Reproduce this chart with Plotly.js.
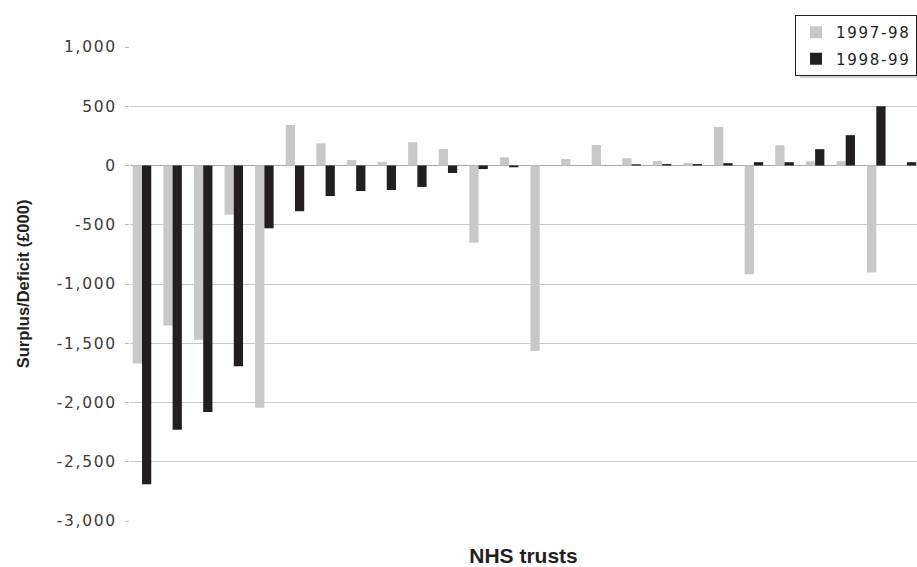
<!DOCTYPE html>
<html>
<head>
<meta charset="utf-8">
<script src="https://cdn.plot.ly/plotly-3.0.1.min.js"></script>
<style>
  html, body { margin: 0; padding: 0; background: #fff; }
  #chart { width: 917px; height: 567px; }
  /* wide, airy numerals for tick labels and legend entries */
  .ytick text, text.ytick, .yaxislayer-above text, .legendtext { letter-spacing: 1.7px !important; }
</style>
</head>
<body>
<div id="chart"></div>
<script>
// NHS trusts, surplus / deficit in £000
const trusts = ['T1','T2','T3','T4','T5','T6','T7','T8','T9','T10','T11','T12','T13',
                'T14','T15','T16','T17','T18','T19','T20','T21','T22','T23','T24','T25','T26'];

const fy1997 = [-1670, -1350, -1470, -415, -2045, 342, 187, 46, 30, 196, 139, -651, 69,
                -1565, 55, 173, 61, 38, 21, 326, -918, 171, 35, 39, -903, 0];

const fy1998 = [-2690, -2230, -2080, -1695, -530, -386, -258, -215, -207, -181, -63, -30, -15,
                0, 0, 0, 10, 12, 12, 20, 28, 28, 138, 256, 500, 28];

const seriesNames = ['1997-98', '1998-99'];

const yTickVals = [-3000, -2500, -2000, -1500, -1000, -500, 0, 500, 1000];
const yTickText = ['-3,000', '-2,500', '-2,000', '-1,500', '-1,000', '-500', '0', '500', '1,000'];

// frame geometry (pixels)
const W = 917, H = 567;
const M = { l: 130, r: 0, t: 47, b: 46 };
const plotW = W - M.l - M.r, plotH = H - M.t - M.b;
const px2x = px => (px - M.l) / plotW;
const px2y = py => (H - M.b - py) / plotH;

const xIdx = trusts.map((_, i) => i);

const traces = [
  { type: 'bar', name: seriesNames[0], x: xIdx, y: fy1997, legendgroup: 'a',
    marker: { color: '#c8c8ca' }, hoverinfo: 'skip' },
  { type: 'bar', name: seriesNames[1], x: xIdx, y: fy1998, legendgroup: 'b',
    marker: { color: '#231f20' }, hoverinfo: 'skip' }
];

const layout = {
  width: W, height: H,
  margin: M,
  paper_bgcolor: '#fff', plot_bgcolor: '#fff',
  barmode: 'group', bargap: 0.395, bargroupgap: 0,
  showlegend: true,
  legend: {
    x: 1, xanchor: 'right', y: px2y(15), yanchor: 'top',
    bgcolor: '#fff', bordercolor: '#231f20', borderwidth: 1,
    font: { family: 'DejaVu Sans', size: 15, color: '#231f20' },
    traceorder: 'grouped', tracegroupgap: 4, itemwidth: 30
  },
  xaxis: {
    range: [-0.392, 25.33],
    showgrid: false, zeroline: false, showline: false,
    showticklabels: false, ticks: '',
    title: { text: 'NHS trusts', standoff: 28,
             font: { family: 'Liberation Sans', size: 21, weight: 'bold', color: '#231f20' } }
  },
  yaxis: {
    range: [-3000, 1000],
    tickvals: yTickVals, ticktext: yTickText,
    showgrid: true, gridcolor: '#cacaca', gridwidth: 1,
    zeroline: true, zerolinecolor: '#a9a9a9', zerolinewidth: 1,
    showline: false,
    ticks: 'outside', ticklen: 4, tickcolor: '#bdbdbd', tickwidth: 1,
    ticklabelstandoff: 5,
    tickfont: { family: 'DejaVu Sans', size: 15.5, color: '#3c3c3c' },
    title: { text: 'Surplus/Deficit (£000)', standoff: 22,
             font: { family: 'Liberation Sans', size: 16.5, weight: 'bold', color: '#231f20' } }
  },
  shapes: [
    // soft drop shadow under the legend box
    { type: 'rect', xref: 'paper', yref: 'paper', layer: 'above',
      x0: px2x(800), x1: px2x(920), y0: px2y(78), y1: px2y(20),
      fillcolor: '#d2d2d2', line: { width: 0 } }
  ]
};

Plotly.newPlot('chart', traces, layout, { staticPlot: true, displayModeBar: false });
</script>
</body>
</html>
